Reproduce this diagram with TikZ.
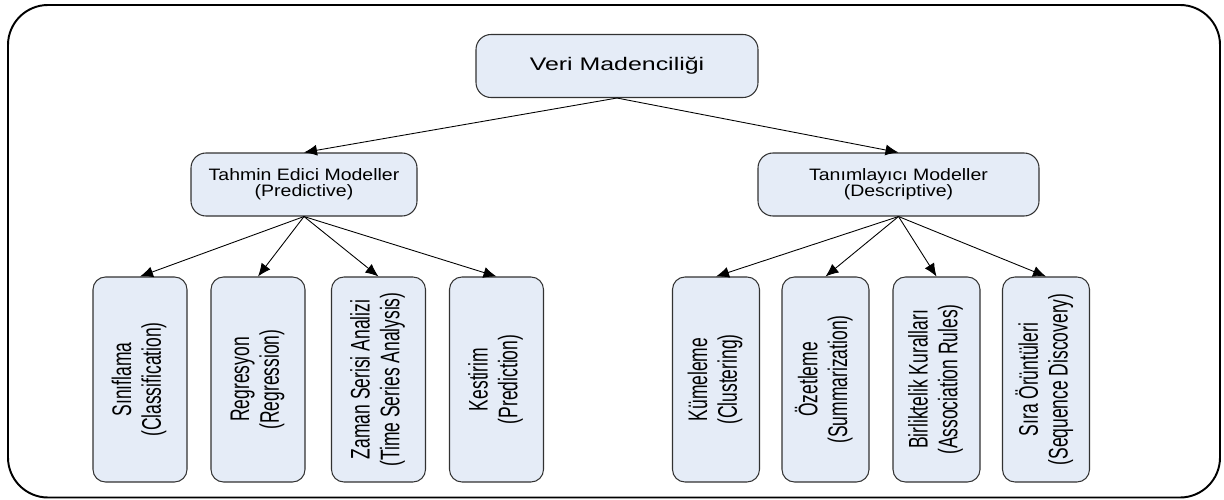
\documentclass[tikz,border=0pt]{standalone}
\usepackage{fontspec}
\usepackage{graphicx}
\setmainfont{Liberation Sans}
\newfontfamily\rootsans[FakeStretch=1.37]{Liberation Sans}
\newfontfamily\midsans[FakeStretch=1.18]{Liberation Sans}
\newfontfamily\leafsans[FakeStretch=0.65]{Liberation Sans}
\usetikzlibrary{arrows.meta}

\definecolor{boxfill}{RGB}{229,236,247}
\definecolor{boxline}{RGB}{50,50,50}

\newcommand{\dikyazi}[1]{\rotatebox{90}{\begin{tabular}{@{}c@{}}#1\end{tabular}}}

\begin{document}
\begin{tikzpicture}[
    every node/.style={inner sep=0pt},
    box/.style={draw=boxline, fill=boxfill, line width=0.6pt, rounded corners=0.3cm, align=center},
    leafbox/.style={box, rounded corners=0.25cm, minimum height=4.1cm, font=\leafsans\fontsize{15.3}{17}\selectfont},
    arr/.style={-{Latex[length=0.26cm,width=0.22cm]}, line width=0.5pt}
]
    \useasboundingbox (0,0) rectangle (24.48,9.98);
    \draw[line width=1.1pt, rounded corners=0.8cm] (0.16,0.03) rectangle (24.40,9.88);

    \node[box, minimum width=5.64cm, minimum height=1.26cm, font=\rootsans\fontsize{10.35}{12}\selectfont] (vm) at (12.34,8.66) {Veri Madenciliği};
    \node[box, minimum width=4.52cm, minimum height=1.26cm, font=\midsans\fontsize{9.4}{9}\selectfont] (tahmin) at (6.08,6.29) {Tahmin Edici Modeller\\(Predictive)};
    \node[box, minimum width=5.62cm, minimum height=1.26cm, font=\midsans\fontsize{9.4}{9}\selectfont] (tanim) at (17.97,6.29) {Tanımlayıcı Modeller\\(Descriptive)};

    \draw[arr] (vm.south) -- (tahmin.north);
    \draw[arr] (vm.south) -- (tanim.north);

    \foreach \name/\x/\txt in {sinif/2.80/{Sınıflama\\(Classification)},
                              regr/5.16/{Regresyon\\(Regression)},
                              zaman/7.57/{Zaman Serisi Analizi\\(Time Series Analysis)},
                              kest/9.93/{Kestirim\\(Prediction)}}
    {
        \node[leafbox, minimum width=1.88cm] (\name) at (\x,2.39) {\dikyazi{\txt}};
        \draw[arr] (tahmin.south) -- (\name.north);
    }

    \foreach \name/\x/\txt in {kume/14.32/{Kümeleme\\(Clustering)},
                              ozet/16.51/{Özetleme\\(Summarization)},
                              birlik/18.73/{Birliktelik Kuralları\\(Association Rules)},
                              sira/20.92/{Sıra Örüntüleri\\(Sequence Discovery)}}
    {
        \node[leafbox, minimum width=1.74cm] (\name) at (\x,2.39) {\dikyazi{\txt}};
        \draw[arr] (tanim.south) -- (\name.north);
    }
\end{tikzpicture}
\end{document}
